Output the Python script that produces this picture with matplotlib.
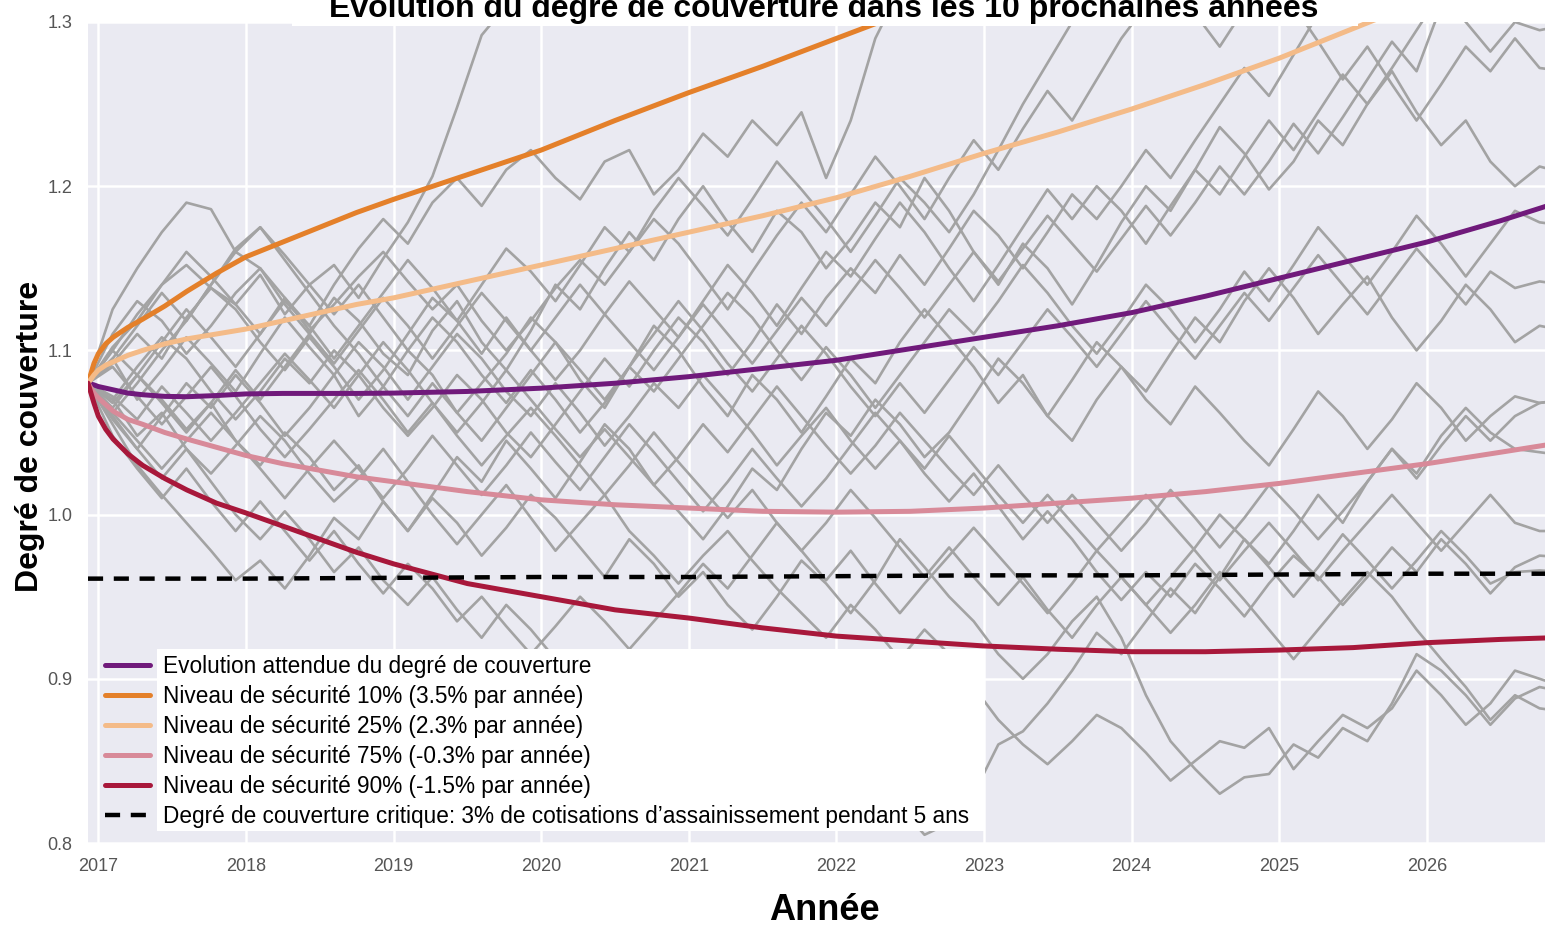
import numpy as np
import matplotlib.pyplot as plt
from matplotlib.patches import Rectangle

plt.rcParams['font.family'] = ['Liberation Sans', 'DejaVu Sans']

# simulated paths, one value every two months from Dec 2016
sim_start = 2016.93
sim_step = 1 / 6

sim_paths = [
    [1.080, 1.102, 1.118, 1.140, 1.152, 1.138,
     1.128, 1.146, 1.122, 1.140, 1.152, 1.132,
     1.156, 1.178, 1.206, 1.248, 1.292, 1.310,
     1.340, 1.370, 1.400],
    [1.080, 1.125, 1.150, 1.172, 1.190, 1.186,
     1.160, 1.150, 1.128, 1.110, 1.132, 1.118,
     1.098, 1.085, 1.112, 1.130, 1.105, 1.088,
     1.112, 1.140, 1.125, 1.150, 1.172, 1.155,
     1.180, 1.200, 1.178, 1.160, 1.185, 1.172,
     1.150, 1.168, 1.190, 1.175, 1.205, 1.185,
     1.160, 1.140, 1.165, 1.150, 1.128, 1.152,
     1.178, 1.200, 1.185, 1.210, 1.236, 1.220,
     1.198, 1.215, 1.240, 1.225, 1.250, 1.270,
     1.245, 1.225, 1.240, 1.215, 1.200, 1.212,
     1.208],
    [1.080, 1.100, 1.122, 1.140, 1.160, 1.145,
     1.128, 1.110, 1.132, 1.115, 1.140, 1.162,
     1.180, 1.165, 1.190, 1.205, 1.188, 1.210,
     1.222, 1.205, 1.192, 1.215, 1.222, 1.195,
     1.210, 1.232, 1.218, 1.240, 1.225, 1.245,
     1.205, 1.240, 1.290, 1.320, 1.350],
    [1.080, 1.095, 1.070, 1.088, 1.108, 1.092,
     1.075, 1.098, 1.120, 1.102, 1.085, 1.060,
     1.078, 1.100, 1.085, 1.062, 1.080, 1.098,
     1.120, 1.105, 1.082, 1.065, 1.090, 1.115,
     1.100, 1.078, 1.060, 1.085, 1.070, 1.050,
     1.072, 1.095, 1.080, 1.105, 1.125, 1.108,
     1.090, 1.068, 1.085, 1.060, 1.045, 1.070,
     1.090, 1.075, 1.098, 1.120, 1.105, 1.130,
     1.150, 1.132, 1.110, 1.128, 1.145, 1.120,
     1.100, 1.118, 1.140, 1.125, 1.105, 1.115,
     1.112],
    [1.080, 1.055, 1.030, 1.012, 0.995, 0.978,
     0.960, 0.972, 0.955, 0.975, 0.998, 0.985,
     1.008, 0.990, 1.012, 1.035, 1.020, 1.045,
     1.028, 1.010, 1.032, 1.055, 1.040, 1.018,
     1.002, 0.985, 1.005, 1.028, 1.015, 1.040,
     1.062, 1.048, 1.070, 1.055, 1.035, 1.050,
     1.072, 1.095, 1.080, 1.060, 1.082, 1.105,
     1.090, 1.070, 1.055, 1.078, 1.062, 1.045,
     1.030, 1.052, 1.075, 1.060, 1.040, 1.058,
     1.080, 1.065, 1.045, 1.060, 1.072, 1.068,
     1.070],
    [1.080, 1.065, 1.085, 1.070, 1.052, 1.068,
     1.045, 1.030, 1.050, 1.035, 1.015, 1.030,
     1.008, 0.990, 1.010, 0.995, 0.975, 0.992,
     1.012, 0.998, 0.980, 0.962, 0.985, 0.970,
     0.950, 0.965, 0.945, 0.930, 0.950, 0.972,
     0.958, 0.940, 0.960, 0.985, 0.968, 0.950,
     0.935, 0.915, 0.900, 0.915, 0.935, 0.950,
     0.925, 0.890, 0.862, 0.845, 0.830, 0.840,
     0.842, 0.860, 0.852, 0.870, 0.862, 0.885,
     0.915, 0.905, 0.890, 0.872, 0.888, 0.895,
     0.892],
    [1.080, 1.070, 1.048, 1.062, 1.040, 1.025,
     1.042, 1.060, 1.045, 1.025, 1.008, 1.022,
     1.040, 1.020, 1.000, 0.982, 1.000, 1.018,
     0.998, 0.978, 0.995, 1.012, 0.990, 0.975,
     0.958, 0.975, 0.990, 0.972, 0.955, 0.940,
     0.925, 0.945, 0.930, 0.912, 0.930, 0.915,
     0.895, 0.875, 0.860, 0.848, 0.862, 0.878,
     0.870, 0.855, 0.838, 0.850, 0.862, 0.858,
     0.870, 0.845, 0.862, 0.878, 0.870, 0.882,
     0.905, 0.890, 0.872, 0.885, 0.905, 0.900,
     0.895],
    [1.080, 1.060, 1.040, 1.022, 1.040, 1.020,
     1.000, 0.985, 1.002, 0.985, 0.965, 0.980,
     0.960, 0.945, 0.962, 0.942, 0.925, 0.945,
     0.930, 0.912, 0.895, 0.910, 0.890, 0.872,
     0.858, 0.840, 0.852, 0.832, 0.815, 0.828,
     0.845, 0.828, 0.810, 0.822, 0.805, 0.812,
     0.830, 0.860, 0.868, 0.885, 0.905, 0.928,
     0.915, 0.935, 0.955, 0.940, 0.962, 0.985,
     0.970, 0.990, 1.012, 0.995, 1.020, 1.040,
     1.025, 1.048, 1.065, 1.050, 1.040, 1.038,
     1.036],
    [1.080, 1.092, 1.110, 1.095, 1.120, 1.138,
     1.125, 1.105, 1.088, 1.108, 1.090, 1.070,
     1.088, 1.110, 1.132, 1.118, 1.140, 1.162,
     1.148, 1.130, 1.152, 1.175, 1.160, 1.185,
     1.205, 1.188, 1.170, 1.192, 1.215, 1.198,
     1.180, 1.160, 1.182, 1.205, 1.190, 1.172,
     1.195, 1.222, 1.250, 1.275, 1.300, 1.330,
     1.360, 1.380],
    [1.080, 1.110, 1.130, 1.118, 1.098, 1.115,
     1.135, 1.150, 1.132, 1.112, 1.128, 1.145,
     1.160, 1.142, 1.125, 1.140, 1.118, 1.100,
     1.118, 1.138, 1.155, 1.140, 1.160, 1.180,
     1.165, 1.145, 1.125, 1.148, 1.170, 1.190,
     1.172, 1.195, 1.218, 1.200, 1.180, 1.205,
     1.228, 1.210, 1.235, 1.258, 1.240, 1.265,
     1.290, 1.310, 1.330, 1.305, 1.285, 1.308,
     1.330, 1.310, 1.288, 1.265, 1.285, 1.262,
     1.240, 1.262, 1.285, 1.270, 1.290, 1.272,
     1.270],
    [1.080, 1.070, 1.090, 1.108, 1.095, 1.075,
     1.058, 1.075, 1.095, 1.080, 1.100, 1.085,
     1.065, 1.048, 1.065, 1.085, 1.070, 1.050,
     1.035, 1.055, 1.075, 1.095, 1.078, 1.100,
     1.120, 1.105, 1.085, 1.105, 1.128, 1.110,
     1.132, 1.150, 1.135, 1.158, 1.140, 1.162,
     1.185, 1.170, 1.150, 1.172, 1.195, 1.180,
     1.200, 1.222, 1.205, 1.228, 1.250, 1.272,
     1.255, 1.280, 1.305, 1.330, 1.350],
    [1.080, 1.100, 1.085, 1.105, 1.125, 1.108,
     1.090, 1.110, 1.130, 1.115, 1.095, 1.115,
     1.135, 1.155, 1.138, 1.118, 1.098, 1.120,
     1.100, 1.082, 1.100, 1.122, 1.105, 1.088,
     1.108, 1.130, 1.152, 1.135, 1.115, 1.138,
     1.160, 1.145, 1.168, 1.190, 1.172, 1.150,
     1.130, 1.152, 1.175, 1.198, 1.180, 1.200,
     1.185, 1.165, 1.188, 1.210, 1.195, 1.218,
     1.240, 1.222, 1.245, 1.268, 1.250, 1.272,
     1.295, 1.318, 1.300, 1.282, 1.300, 1.295,
     1.298],
    [1.080, 1.062, 1.080, 1.100, 1.118, 1.140,
     1.162, 1.175, 1.158, 1.140, 1.122, 1.140,
     1.120, 1.100, 1.120, 1.105, 1.085, 1.068,
     1.088, 1.070, 1.050, 1.068, 1.090, 1.075,
     1.095, 1.115, 1.135, 1.120, 1.100, 1.082,
     1.102, 1.085, 1.065, 1.085, 1.105, 1.125,
     1.110, 1.130, 1.152, 1.135, 1.115, 1.098,
     1.118, 1.140, 1.125, 1.105, 1.125, 1.148,
     1.130, 1.152, 1.175, 1.158, 1.140, 1.160,
     1.182, 1.165, 1.145, 1.165, 1.185, 1.178,
     1.176],
    [1.080, 1.058, 1.040, 1.060, 1.080, 1.065,
     1.085, 1.068, 1.048, 1.065, 1.085, 1.105,
     1.090, 1.070, 1.090, 1.110, 1.095, 1.075,
     1.060, 1.080, 1.062, 1.042, 1.060, 1.080,
     1.065, 1.085, 1.068, 1.050, 1.030, 1.048,
     1.065, 1.045, 1.028, 1.045, 1.025, 1.008,
     1.025, 1.005, 0.985, 1.002, 0.985, 0.965,
     0.948, 0.965, 0.950, 0.970, 0.955, 0.938,
     0.958, 0.975, 0.962, 0.945, 0.962, 0.980,
     0.965, 0.985, 0.970, 0.952, 0.968, 0.975,
     0.974],
    [1.080, 1.048, 1.028, 1.010, 1.028, 1.008,
     0.990, 1.008, 0.990, 0.972, 0.990, 0.970,
     0.952, 0.970, 0.955, 0.935, 0.950, 0.932,
     0.915, 0.932, 0.950, 0.935, 0.918, 0.935,
     0.952, 0.970, 0.955, 0.975, 0.995, 0.978,
     0.960, 0.978, 0.958, 0.940, 0.958, 0.975,
     0.992, 0.975, 0.958, 0.940, 0.958, 0.978,
     0.962, 0.945, 0.962, 0.980, 1.000, 0.985,
     0.968, 0.950, 0.968, 0.988, 0.972, 0.955,
     0.972, 0.990, 0.975, 0.958, 0.965, 0.966,
     0.965],
    [1.080, 1.090, 1.072, 1.055, 1.072, 1.090,
     1.072, 1.052, 1.035, 1.052, 1.070, 1.088,
     1.070, 1.050, 1.068, 1.048, 1.030, 1.048,
     1.065, 1.048, 1.030, 1.012, 1.030, 1.050,
     1.032, 1.015, 0.998, 1.015, 0.995, 0.978,
     0.995, 1.015, 0.998, 0.980, 0.962, 0.980,
     0.962, 0.945, 0.962, 0.942, 0.925, 0.945,
     0.962, 0.945, 0.928, 0.945, 0.965, 0.948,
     0.930, 0.912, 0.930, 0.948, 0.965, 0.950,
     0.930, 0.912, 0.895, 0.875, 0.890, 0.882,
     0.880],
    [1.080, 1.072, 1.058, 1.078, 1.062, 1.045,
     1.062, 1.080, 1.098, 1.082, 1.065, 1.085,
     1.105, 1.088, 1.068, 1.050, 1.068, 1.088,
     1.070, 1.052, 1.035, 1.052, 1.035, 1.018,
     1.035, 1.055, 1.038, 1.058, 1.078, 1.060,
     1.042, 1.025, 1.042, 1.062, 1.045, 1.028,
     1.012, 1.030, 1.012, 0.995, 1.012, 0.995,
     0.978, 0.995, 1.015, 0.998, 0.980, 0.998,
     1.018, 1.002, 0.985, 1.002, 1.020, 1.040,
     1.022, 1.042, 1.060, 1.045, 1.060, 1.068,
     1.070],
    [1.080, 1.095, 1.115, 1.135, 1.118, 1.140,
     1.160, 1.175, 1.155, 1.135, 1.115, 1.098,
     1.078, 1.060, 1.080, 1.062, 1.045, 1.065,
     1.085, 1.105, 1.088, 1.070, 1.090, 1.110,
     1.130, 1.112, 1.092, 1.075, 1.095, 1.115,
     1.098, 1.078, 1.060, 1.080, 1.062, 1.082,
     1.102, 1.085, 1.105, 1.125, 1.108, 1.090,
     1.110, 1.130, 1.112, 1.095, 1.115, 1.135,
     1.118, 1.138, 1.158, 1.140, 1.122, 1.142,
     1.162, 1.145, 1.128, 1.148, 1.138, 1.142,
     1.140],
    [1.080, 1.068, 1.085, 1.068, 1.050, 1.068,
     1.088, 1.070, 1.090, 1.110, 1.092, 1.112,
     1.132, 1.115, 1.095, 1.115, 1.135, 1.118,
     1.100, 1.120, 1.140, 1.122, 1.142, 1.125,
     1.108, 1.128, 1.110, 1.092, 1.112, 1.132,
     1.115, 1.135, 1.155, 1.138, 1.120, 1.140,
     1.160, 1.142, 1.162, 1.182, 1.165, 1.148,
     1.168, 1.188, 1.170, 1.190, 1.212, 1.195,
     1.215, 1.238, 1.220, 1.242, 1.265, 1.288,
     1.270, 1.310, 1.340, 1.360],
    [1.080, 1.062, 1.045, 1.028, 1.045, 1.062,
     1.045, 1.028, 1.010, 1.028, 1.045, 1.028,
     1.010, 1.028, 1.048, 1.030, 1.012, 1.030,
     1.050, 1.032, 1.015, 1.035, 1.055, 1.038,
     1.020, 1.002, 1.020, 1.040, 1.022, 1.005,
     1.022, 1.042, 1.062, 1.045, 1.028, 1.048,
     1.030, 1.012, 0.995, 1.012, 0.995, 0.978,
     0.995, 1.012, 0.995, 0.978, 0.960, 0.978,
     0.995, 0.978, 0.960, 0.978, 0.995, 1.012,
     0.995, 0.978, 0.995, 1.012, 0.995, 0.990,
     0.990],
]

# smooth curves
curve_years = [2016.93, 2016.97, 2017.0, 2017.05, 2017.1, 2017.2, 2017.3, 2017.45,
               2017.6, 2017.8, 2018.0, 2018.25, 2018.5, 2018.75, 2019.0, 2019.5,
               2020.0, 2020.5, 2021.0, 2021.5, 2022.0, 2022.5, 2023.0, 2023.5,
               2024.0, 2024.5, 2025.0, 2025.5, 2026.0, 2026.5, 2026.85]

expected = [1.080, 1.079, 1.078, 1.077, 1.076, 1.074, 1.073, 1.072,
            1.0718, 1.0725, 1.0735, 1.0738, 1.0738, 1.0738, 1.074, 1.075,
            1.077, 1.080, 1.084, 1.089, 1.094, 1.101, 1.108, 1.115,
            1.123, 1.133, 1.144, 1.155, 1.166, 1.179, 1.189]
level_10 = [1.080, 1.092, 1.098, 1.104, 1.108, 1.114, 1.119, 1.127,
            1.136, 1.147, 1.157, 1.166, 1.175, 1.184, 1.192, 1.207,
            1.222, 1.240, 1.257, 1.273, 1.290, 1.307, 1.325, 1.343,
            1.362, 1.381, 1.400, 1.420, 1.440, 1.460, 1.475]
level_25 = [1.080, 1.085, 1.088, 1.091, 1.093, 1.097, 1.100, 1.104,
            1.107, 1.110, 1.113, 1.118, 1.123, 1.128, 1.132, 1.142,
            1.152, 1.162, 1.172, 1.182, 1.193, 1.206, 1.220, 1.233,
            1.247, 1.262, 1.278, 1.296, 1.314, 1.333, 1.346]
level_75 = [1.080, 1.074, 1.071, 1.067, 1.063, 1.058, 1.055, 1.050,
            1.046, 1.041, 1.036, 1.031, 1.027, 1.023, 1.020, 1.014,
            1.009, 1.006, 1.004, 1.002, 1.0015, 1.002, 1.004, 1.007,
            1.010, 1.014, 1.019, 1.025, 1.031, 1.038, 1.043]
level_90 = [1.080, 1.068, 1.060, 1.052, 1.046, 1.037, 1.030, 1.022,
            1.015, 1.007, 1.001, 0.993, 0.985, 0.977, 0.970, 0.958,
            0.950, 0.942, 0.937, 0.931, 0.926, 0.923, 0.920, 0.918,
            0.9165, 0.9165, 0.9175, 0.919, 0.922, 0.924, 0.925]

critical_years = [2016.93, 2018, 2019, 2020, 2021, 2022, 2023, 2024, 2025, 2026, 2026.85]
critical = [0.961, 0.961, 0.9615, 0.962, 0.962, 0.9625, 0.963, 0.963, 0.9635, 0.964, 0.964]

labels = ['Evolution attendue du degré de couverture',
          'Niveau de sécurité 10% (3.5% par année)',
          'Niveau de sécurité 25% (2.3% par année)',
          'Niveau de sécurité 75% (-0.3% par année)',
          'Niveau de sécurité 90% (-1.5% par année)',
          'Degré de couverture critique: 3% de cotisations d\u2019assainissement pendant 5 ans']
colors = ['#701a7b', '#e4802a', '#f4bb88', '#d88a99', '#a8183b']

fig = plt.figure(figsize=(15.45, 9.26), dpi=100)
ax = fig.add_axes([88 / 1545, 83 / 926, 1457 / 1545, 821 / 926])
ax.set_facecolor('#eaeaf2')
for s in ax.spines.values():
    s.set_visible(False)
ax.grid(True, color='white', linewidth=1.8)
ax.set_axisbelow(True)

for path in sim_paths:
    xs = sim_start + sim_step * np.arange(len(path))
    ax.plot(xs, path, color='#a3a3a3', linewidth=1.9, zorder=2)

handles = []
for vals, c, lab in zip([expected, level_10, level_25, level_75, level_90], colors, labels):
    h, = ax.plot(curve_years, vals, color=c, linewidth=3.6, label=lab, zorder=3,
                 solid_capstyle='round')
    handles.append(h)
h, = ax.plot(critical_years, critical, color='black', linewidth=3.2,
             linestyle=(0, (3.4, 2.4)), label=labels[5], zorder=3)
handles.append(h)

ax.set_xlim(2016.93, 2026.80)
ax.set_ylim(0.8, 1.3)
ax.set_xticks(range(2017, 2027))
ax.set_yticks([0.8, 0.9, 1.0, 1.1, 1.2, 1.3])
ax.set_yticklabels(['0.8', '0.9', '1.0', '1.1', '1.2', '1.3'])
ax.tick_params(length=0, pad=11, labelsize=13, labelcolor='#555555')

# white box behind the legend text
ax.add_patch(Rectangle((0.0474, 0.0146), 0.5683, 0.2217, transform=ax.transAxes,
                       facecolor='white', edgecolor='none', zorder=4))
ax.legend(handles=handles, loc='upper left', bbox_to_anchor=(0.0117, 0.2290),
          frameon=False, fontsize=16.3, handlelength=2.0, handletextpad=0.55,
          labelspacing=0.31, borderpad=0, borderaxespad=0).set_zorder(5)

# title on its white band
fig.patches.append(Rectangle((292 / 1545, 1 - 26 / 926), 1066 / 1545, 26 / 926,
                             transform=fig.transFigure, facecolor='white',
                             edgecolor='none', zorder=1))
fig.text(824 / 1545, 1 - 17 / 926,
         'Evolution du degré de couverture dans les 10 prochaines années',
         ha='center', va='baseline', fontsize=23, fontweight='bold', zorder=2)
fig.text(30 / 1545, 1 - 436 / 926, 'Degré de couverture', rotation=90,
         ha='center', va='center', fontsize=23, fontweight='bold')
fig.text(824 / 1545, 1 - 910 / 926, 'Année', ha='center', va='center',
         fontsize=26, fontweight='bold')

fig.savefig('out.png', dpi=100)
